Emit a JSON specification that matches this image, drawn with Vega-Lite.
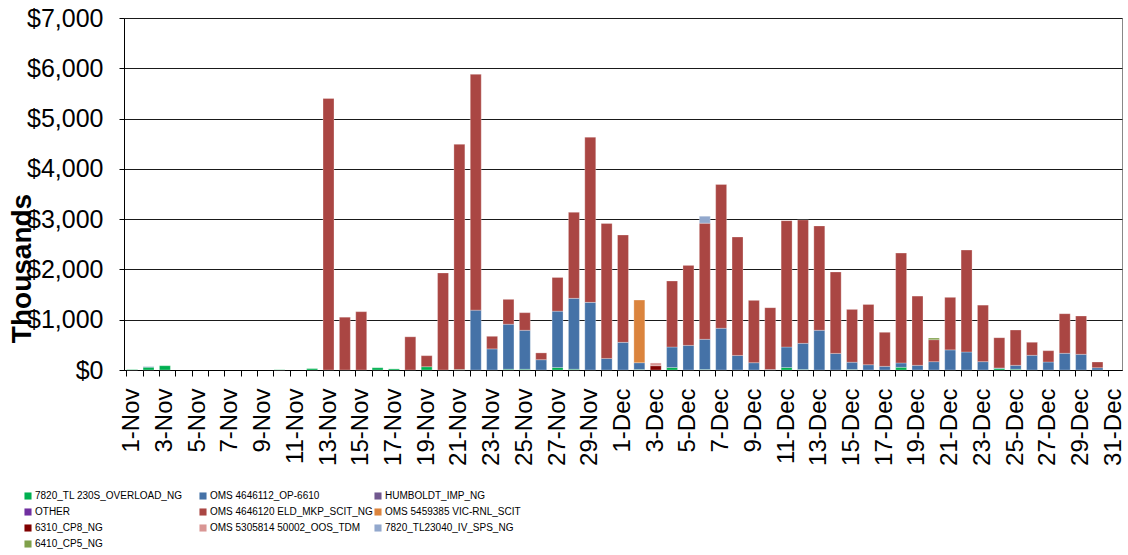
{
  "$schema": "https://vega.github.io/schema/vega-lite/v6.json",
  "width": 998,
  "height": 352,
  "autosize": {"type": "none"},
  "padding": {"left": 124, "top": 18, "right": 6, "bottom": 185},
  "background": "white",
  "config": {
    "font": "Liberation Sans",
    "view": {"stroke": "#888888", "strokeWidth": 1},
    "axis": {"domainColor": "#000000", "tickColor": "#000000", "labelColor": "#000000", "titleColor": "#000000"}
  },
  "datasets": {
    "series": [
      {"c": "G", "s": "7820_TL 230S_OVERLOAD_NG", "k": 0},
      {"c": "B", "s": "OMS 4646112_OP-6610", "k": 1},
      {"c": "H", "s": "HUMBOLDT_IMP_NG", "k": 2},
      {"c": "O", "s": "OTHER", "k": 3},
      {"c": "R", "s": "OMS 4646120 ELD_MKP_SCIT_NG", "k": 4},
      {"c": "Or", "s": "OMS 5459385 VIC-RNL_SCIT", "k": 5},
      {"c": "DR", "s": "6310_CP8_NG", "k": 6},
      {"c": "P", "s": "OMS 5305814 50002_OOS_TDM", "k": 7},
      {"c": "LB", "s": "7820_TL23040_IV_SPS_NG", "k": 8},
      {"c": "OL", "s": "6410_CP5_NG", "k": 9}
    ],
    "rows": [
      {"d": "1-Nov", "c": "G", "v": 8},
      {"d": "2-Nov", "c": "G", "v": 55}, {"d": "2-Nov", "c": "B", "v": 10},
      {"d": "3-Nov", "c": "G", "v": 85},
      {"d": "10-Nov", "c": "G", "v": 5},
      {"d": "12-Nov", "c": "G", "v": 28},
      {"d": "13-Nov", "c": "R", "v": 5400},
      {"d": "14-Nov", "c": "R", "v": 1050},
      {"d": "15-Nov", "c": "R", "v": 1160},
      {"d": "16-Nov", "c": "G", "v": 45},
      {"d": "17-Nov", "c": "G", "v": 22},
      {"d": "18-Nov", "c": "R", "v": 660},
      {"d": "19-Nov", "c": "G", "v": 65}, {"d": "19-Nov", "c": "R", "v": 220},
      {"d": "20-Nov", "c": "R", "v": 1930},
      {"d": "21-Nov", "c": "G", "v": 8}, {"d": "21-Nov", "c": "R", "v": 4480},
      {"d": "22-Nov", "c": "B", "v": 1190}, {"d": "22-Nov", "c": "R", "v": 4690},
      {"d": "23-Nov", "c": "B", "v": 420}, {"d": "23-Nov", "c": "R", "v": 250},
      {"d": "24-Nov", "c": "G", "v": 15}, {"d": "24-Nov", "c": "B", "v": 895}, {"d": "24-Nov", "c": "R", "v": 495},
      {"d": "25-Nov", "c": "G", "v": 15}, {"d": "25-Nov", "c": "B", "v": 775}, {"d": "25-Nov", "c": "R", "v": 350},
      {"d": "26-Nov", "c": "B", "v": 205}, {"d": "26-Nov", "c": "R", "v": 135},
      {"d": "27-Nov", "c": "G", "v": 50}, {"d": "27-Nov", "c": "B", "v": 1120}, {"d": "27-Nov", "c": "R", "v": 670},
      {"d": "28-Nov", "c": "G", "v": 15}, {"d": "28-Nov", "c": "B", "v": 1410}, {"d": "28-Nov", "c": "R", "v": 1710},
      {"d": "29-Nov", "c": "B", "v": 1345}, {"d": "29-Nov", "c": "R", "v": 3285},
      {"d": "30-Nov", "c": "B", "v": 230}, {"d": "30-Nov", "c": "R", "v": 2685},
      {"d": "1-Dec", "c": "B", "v": 550}, {"d": "1-Dec", "c": "R", "v": 2135},
      {"d": "2-Dec", "c": "G", "v": 10}, {"d": "2-Dec", "c": "B", "v": 135}, {"d": "2-Dec", "c": "Or", "v": 1245},
      {"d": "3-Dec", "c": "DR", "v": 85}, {"d": "3-Dec", "c": "P", "v": 55},
      {"d": "4-Dec", "c": "G", "v": 50}, {"d": "4-Dec", "c": "B", "v": 407}, {"d": "4-Dec", "c": "R", "v": 1313},
      {"d": "5-Dec", "c": "B", "v": 490}, {"d": "5-Dec", "c": "R", "v": 1590},
      {"d": "6-Dec", "c": "G", "v": 10}, {"d": "6-Dec", "c": "B", "v": 600}, {"d": "6-Dec", "c": "R", "v": 2310}, {"d": "6-Dec", "c": "LB", "v": 140},
      {"d": "7-Dec", "c": "B", "v": 830}, {"d": "7-Dec", "c": "R", "v": 2860},
      {"d": "8-Dec", "c": "B", "v": 290}, {"d": "8-Dec", "c": "R", "v": 2355},
      {"d": "9-Dec", "c": "B", "v": 145}, {"d": "9-Dec", "c": "R", "v": 1240},
      {"d": "10-Dec", "c": "B", "v": 10}, {"d": "10-Dec", "c": "R", "v": 1230},
      {"d": "11-Dec", "c": "G", "v": 50}, {"d": "11-Dec", "c": "B", "v": 407}, {"d": "11-Dec", "c": "R", "v": 2513},
      {"d": "12-Dec", "c": "G", "v": 10}, {"d": "12-Dec", "c": "B", "v": 520}, {"d": "12-Dec", "c": "R", "v": 2455},
      {"d": "13-Dec", "c": "B", "v": 790}, {"d": "13-Dec", "c": "R", "v": 2075},
      {"d": "14-Dec", "c": "B", "v": 330}, {"d": "14-Dec", "c": "R", "v": 1620},
      {"d": "15-Dec", "c": "G", "v": 10}, {"d": "15-Dec", "c": "B", "v": 145}, {"d": "15-Dec", "c": "R", "v": 1050},
      {"d": "16-Dec", "c": "B", "v": 105}, {"d": "16-Dec", "c": "R", "v": 1200},
      {"d": "17-Dec", "c": "B", "v": 73}, {"d": "17-Dec", "c": "R", "v": 677},
      {"d": "18-Dec", "c": "G", "v": 53}, {"d": "18-Dec", "c": "B", "v": 87}, {"d": "18-Dec", "c": "R", "v": 2185},
      {"d": "19-Dec", "c": "B", "v": 93}, {"d": "19-Dec", "c": "R", "v": 1377},
      {"d": "20-Dec", "c": "B", "v": 166}, {"d": "20-Dec", "c": "R", "v": 437}, {"d": "20-Dec", "c": "OL", "v": 33},
      {"d": "21-Dec", "c": "B", "v": 400}, {"d": "21-Dec", "c": "R", "v": 1045},
      {"d": "22-Dec", "c": "B", "v": 358}, {"d": "22-Dec", "c": "R", "v": 2027},
      {"d": "23-Dec", "c": "B", "v": 166}, {"d": "23-Dec", "c": "R", "v": 1124},
      {"d": "24-Dec", "c": "G", "v": 30}, {"d": "24-Dec", "c": "B", "v": 12}, {"d": "24-Dec", "c": "R", "v": 601},
      {"d": "25-Dec", "c": "G", "v": 15}, {"d": "25-Dec", "c": "B", "v": 78}, {"d": "25-Dec", "c": "R", "v": 702},
      {"d": "26-Dec", "c": "B", "v": 292}, {"d": "26-Dec", "c": "R", "v": 258},
      {"d": "27-Dec", "c": "B", "v": 159}, {"d": "27-Dec", "c": "R", "v": 225},
      {"d": "28-Dec", "c": "B", "v": 332}, {"d": "28-Dec", "c": "R", "v": 788},
      {"d": "29-Dec", "c": "B", "v": 312}, {"d": "29-Dec", "c": "R", "v": 762},
      {"d": "30-Dec", "c": "B", "v": 46}, {"d": "30-Dec", "c": "R", "v": 113}
    ]
  },
  "data": {"name": "rows"},
  "transform": [
    {"lookup": "c", "from": {"data": {"name": "series"}, "key": "c", "fields": ["s", "k"]}}
  ],
  "resolve": {"axis": {"x": "independent"}},
  "layer": [
    {
      "mark": {"type": "bar", "stroke": "#ffffff", "strokeWidth": 0.8, "strokeOpacity": 0.35},
      "encoding": {
        "x": {
          "field": "d", "type": "nominal",
          "scale": {
            "domain": ["1-Nov","2-Nov","3-Nov","4-Nov","5-Nov","6-Nov","7-Nov","8-Nov","9-Nov","10-Nov","11-Nov","12-Nov","13-Nov","14-Nov","15-Nov","16-Nov","17-Nov","18-Nov","19-Nov","20-Nov","21-Nov","22-Nov","23-Nov","24-Nov","25-Nov","26-Nov","27-Nov","28-Nov","29-Nov","30-Nov","1-Dec","2-Dec","3-Dec","4-Dec","5-Dec","6-Dec","7-Dec","8-Dec","9-Dec","10-Dec","11-Dec","12-Dec","13-Dec","14-Dec","15-Dec","16-Dec","17-Dec","18-Dec","19-Dec","20-Dec","21-Dec","22-Dec","23-Dec","24-Dec","25-Dec","26-Dec","27-Dec","28-Dec","29-Dec","30-Dec","31-Dec"],
            "paddingInner": 0.33, "paddingOuter": 0.165
          },
          "axis": {
            "orient": "bottom", "title": null,
            "values": ["1-Nov","3-Nov","5-Nov","7-Nov","9-Nov","11-Nov","13-Nov","15-Nov","17-Nov","19-Nov","21-Nov","23-Nov","25-Nov","27-Nov","29-Nov","1-Dec","3-Dec","5-Dec","7-Dec","9-Dec","11-Dec","13-Dec","15-Dec","17-Dec","19-Dec","21-Dec","23-Dec","25-Dec","27-Dec","29-Dec","31-Dec"],
            "labelAngle": -90, "labelAlign": "right", "labelBaseline": "middle",
            "labelFontSize": 24, "labelPadding": 18, "ticks": false, "tickSize": 0,
            "domain": true, "domainColor": "#000000", "grid": false, "labelOverlap": false, "labelLimit": 200
          }
        },
        "y": {
          "field": "v", "type": "quantitative", "stack": "zero",
          "scale": {"domain": [0, 7000], "nice": false},
          "axis": {
            "values": [0, 1000, 2000, 3000, 4000, 5000, 6000, 7000],
            "format": "$,.0f", "labelFontSize": 25, "labelPadding": 16, "tickSize": 5,
            "grid": true, "gridColor": "#1a1a1a", "gridWidth": 1,
            "title": "Thousands", "titleFontSize": 28, "titleFontWeight": "bold",
            "titleAngle": -90, "titleX": -102, "titleY": 250, "titleAlign": "center", "titleBaseline": "middle"
          }
        },
        "color": {
          "field": "s", "type": "nominal",
          "scale": {
            "domain": ["7820_TL 230S_OVERLOAD_NG", "OMS 4646112_OP-6610", "HUMBOLDT_IMP_NG", "OTHER", "OMS 4646120 ELD_MKP_SCIT_NG", "OMS 5459385 VIC-RNL_SCIT", "6310_CP8_NG", "OMS 5305814 50002_OOS_TDM", "7820_TL23040_IV_SPS_NG", "6410_CP5_NG"],
            "range": ["#00B050", "#4572A7", "#71588F", "#7030A0", "#AA4643", "#DB843D", "#800000", "#D99694", "#92A8CD", "#7FA04A"]
          },
          "legend": {
            "orient": "none", "legendX": -101, "legendY": 473, "columns": 3, "direction": "horizontal",
            "title": null, "symbolType": "square", "symbolSize": 50, "symbolStrokeWidth": 0,
            "labelFont": "Liberation Sans", "labelFontSize": 10, "labelColor": "#000000",
            "labelLimit": 300, "labelOffset": 2, "rowPadding": 6, "columnPadding": 0, "gridAlign": "all"
          }
        },
        "order": {"field": "k", "type": "quantitative", "sort": "ascending"}
      }
    },
    {
      "mark": {"type": "rule", "opacity": 0},
      "encoding": {
        "x": {
          "field": "d", "type": "nominal",
          "axis": {
            "orient": "bottom", "title": null, "bandPosition": 0, "labels": false,
            "ticks": true, "tickSize": 6, "tickColor": "#000000", "domain": false, "grid": false
          }
        }
      }
    }
  ]
}
